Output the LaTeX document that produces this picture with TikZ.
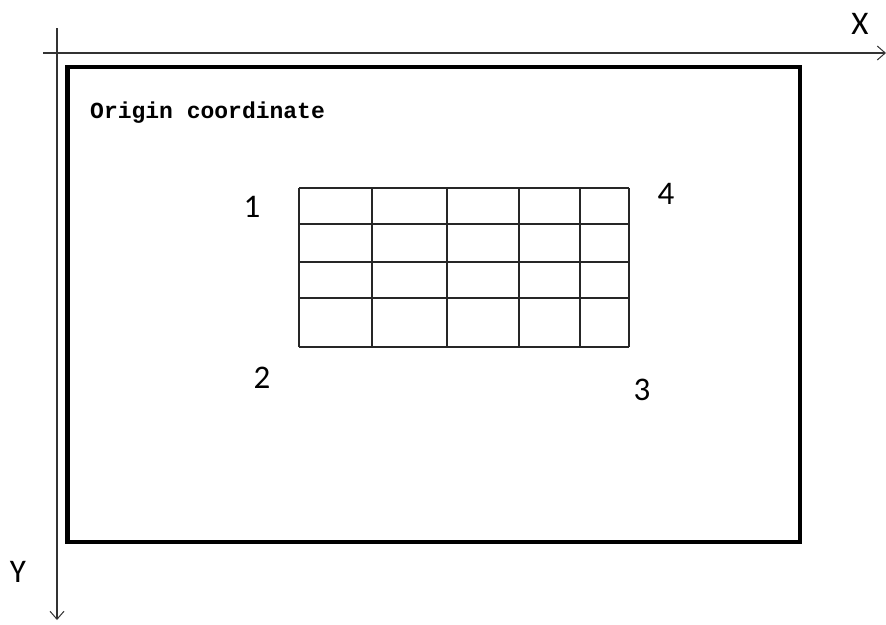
\documentclass[tikz,border=0pt]{standalone}
\usepackage{fontspec}
\setmainfont{Carlito}
\newfontfamily\monof{Liberation Mono}
\usetikzlibrary{arrows.meta}
\begin{document}
\begin{tikzpicture}[x=1pt,y=-1pt,
  axis/.style={line width=1.2pt,draw=black!80,-{Straight Barb[length=8pt,width=14pt,line width=1pt]}},
  frame/.style={line width=4.5pt,line join=miter},
  gridline/.style={line width=1.5pt,draw=black!85},
  num/.style={font=\fontsize{33}{33}\selectfont,inner sep=0pt},
  lbl/.style={font=\monof\bfseries\fontsize{23}{23}\selectfont,inner sep=0pt,anchor=base west}]
\useasboundingbox (0,0) rectangle (886,624);
% axes
\coordinate (xs) at (43,53);
\coordinate (xe) at (886,53);
\coordinate (ys) at (57,28);
\coordinate (ye) at (57,620);
\draw[axis] (xs) -- (xe);
\draw[axis] (ys) -- (ye);
\node[num] (X) at (860,24) {X};
\node[num] (Y) at (18,572) {Y};
% frame
\draw[frame] (67.5,67) rectangle (800,542);
\node[lbl] (orig) at (90,118) {Origin coordinate};
% grid
\foreach \x in {299,372,447,519,580,629} \draw[gridline] (\x,188) -- (\x,347);
\foreach \y in {188,224,262,298,347} \draw[gridline] (299,\y) -- (629,\y);
% corner labels
\node[num] (c1) at (252,207) {1};
\node[num] (c4) at (666,194) {4};
\node[num] (c2) at (262,378) {2};
\node[num] (c3) at (642,390) {3};
\end{tikzpicture}
\end{document}
